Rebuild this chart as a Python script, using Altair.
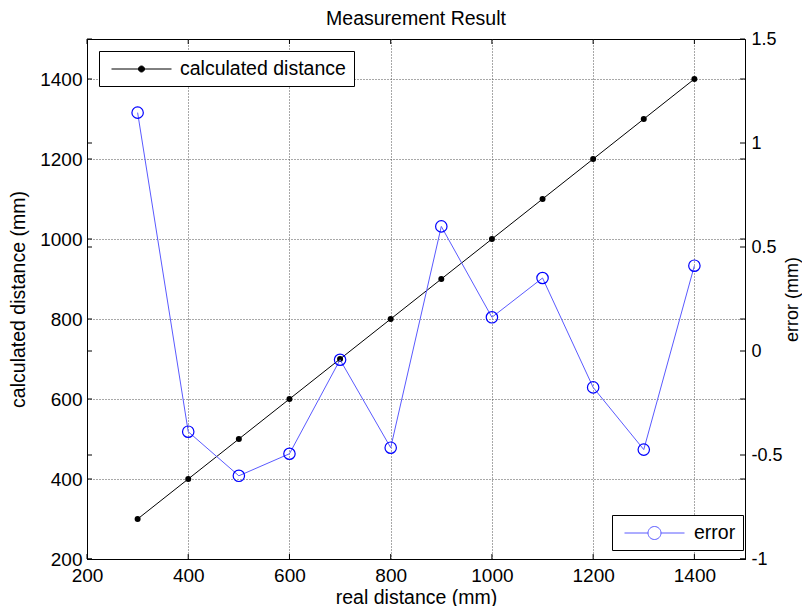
import altair as alt
import pandas as pd

# ---- data ----
real_distance = [300, 400, 500, 600, 700, 800, 900, 1000, 1100, 1200, 1300, 1400]
calculated_distance = [300, 400, 500, 600, 700, 800, 900, 1000, 1100, 1200, 1300, 1400]
error_mm = [1.146, -0.388, -0.600, -0.494, -0.042, -0.465, 0.599, 0.162, 0.351, -0.175, -0.474, 0.410]

x_ticks = [200, 400, 600, 800, 1000, 1200, 1400]
left_ticks = [200, 400, 600, 800, 1000, 1200, 1400]
right_ticks = [-1, -0.5, 0, 0.5, 1, 1.5]

df = pd.DataFrame({
    "real": real_distance,
    "calc": calculated_distance,
    "err": error_mm,
    "s1": ["calculated distance"] * len(real_distance),
    "s2": ["error"] * len(real_distance),
})
df_xt = pd.DataFrame({"real": x_ticks})
df_lt = pd.DataFrame({"t": left_ticks})
df_rt = pd.DataFrame({"t": right_ticks})

W, H = 658, 520
FONT = "Liberation Sans"
FS_TICK = 19
FS_TEXT = 19.5
FS_RIGHT = 18

xscale = alt.Scale(domain=[200, 1500], nice=False, zero=False)
lscale = alt.Scale(domain=[200, 1500], nice=False, zero=False)
rscale = alt.Scale(domain=[-1, 1.5], nice=False, zero=False)

X_AXIS = alt.Axis(values=x_ticks, title="real distance (mm)", grid=True, format="d",
                  ticks=False, labelPadding=7, titlePadding=3, labelFlush=False,
                  labelFontSize=FS_TICK, titleFontSize=FS_TEXT)
X = alt.X("real:Q", scale=xscale, axis=X_AXIS)

# --- left series (left y axis) ---
line_a = alt.Chart(df).mark_line(strokeWidth=1, color="black").encode(
    x=X,
    y=alt.Y("calc:Q", scale=lscale,
            axis=alt.Axis(values=left_ticks, title="calculated distance (mm)", grid=True,
                          format="d", ticks=False, labelPadding=5, titlePadding=11,
                          labelFontSize=FS_TICK, titleFontSize=FS_TEXT)),
    color=alt.Color("s1:N",
                    scale=alt.Scale(domain=["calculated distance"], range=["black"]),
                    legend=alt.Legend(
                        title=None, orient="none", legendX=12, legendY=12,
                        symbolType="M-1,0H5M1.7,0A0.3,0.3 0 1,0 2.3,0A0.3,0.3 0 1,0 1.7,0",
                        symbolSize=400, symbolFillColor="black", symbolStrokeColor="black",
                        symbolStrokeWidth=1, symbolOffset=4.5, labelOffset=48,
                        padding=7.5, strokeColor="black", fillColor="white",
                        labelExpr="datum.label + '\u00a0'", labelLimit=400,
                        labelFont=FONT, labelFontSize=FS_TEXT, labelColor="black")),
)
pts_a = alt.Chart(df).mark_point(filled=True, size=36, opacity=1, color="black").encode(
    x=X,
    y=alt.Y("calc:Q", scale=lscale, axis=None),
)

# --- right series (right y axis) ---
line_b = alt.Chart(df).mark_line(strokeWidth=1).encode(
    x=X,
    y=alt.Y("err:Q", scale=rscale,
            axis=alt.Axis(values=right_ticks, title="error (mm)", orient="right", grid=False,
                          format=".1~f", ticks=False, labelPadding=6, titlePadding=1,
                          titleAngle=270, titleBaseline="top",
                          labelFontSize=FS_RIGHT, titleFontSize=FS_RIGHT,
                          labelExpr="replace(datum.label, '\u2212', '-')")),
    color=alt.Color("s2:N",
                    scale=alt.Scale(domain=["error"], range=["#5a5aff"]),
                    legend=alt.Legend(
                        title=None, orient="none", legendX=525, legendY=476,
                        symbolType="M-1,0H1.35M2.65,0H5M1.35,0A0.65,0.65 0 1,0 2.65,0A0.65,0.65 0 1,0 1.35,0",
                        symbolSize=400, symbolFillColor="transparent", symbolStrokeColor="#2020ff",
                        symbolStrokeWidth=1, symbolOffset=4.5, labelOffset=49, labelLimit=400,
                        padding=7.5, strokeColor="black", fillColor="white",
                        labelFont=FONT, labelFontSize=FS_TEXT, labelColor="black")),
)
pts_b = alt.Chart(df).mark_point(filled=False, size=130, strokeWidth=1.2, opacity=1,
                                 color="#0000ff").encode(
    x=X,
    y=alt.Y("err:Q", scale=rscale, axis=None),
)

# --- inward tick marks (MATLAB style box ticks) ---
def yticks(df_t, sc, x0, x1):
    return alt.Chart(df_t).mark_rule(color="black", strokeWidth=1).encode(
        y=alt.Y("t:Q", scale=sc, axis=None), x=alt.value(x0), x2=alt.value(x1))

def xticks(y0, y1):
    return alt.Chart(df_xt).mark_rule(color="black", strokeWidth=1).encode(
        x=X, y=alt.value(y0), y2=alt.value(y1))

layers = [
    line_a, pts_a, line_b, pts_b,
    yticks(df_lt, lscale, 0, 5), yticks(df_lt, lscale, W - 5, W),
    yticks(df_rt, rscale, 0, 5), yticks(df_rt, rscale, W - 5, W),
    xticks(H - 5, H), xticks(0, 5),
]

chart = alt.layer(*layers).resolve_scale(
    y="independent", color="independent"
).properties(
    width=W, height=H,
    title=alt.TitleParams("Measurement Result", font=FONT, fontSize=FS_TEXT, fontWeight="normal",
                          color="black", anchor="middle", frame="group",
                          baseline="alphabetic", offset=5, dy=19),
    autosize=alt.AutoSizeParams(type="none"),
    padding={"left": 79, "top": 31, "right": 57, "bottom": 47},
    background="white",
).configure_view(
    stroke="black", strokeWidth=1
).configure_axis(
    labelFont=FONT, labelColor="black",
    titleFont=FONT, titleFontWeight="normal", titleColor="black",
    domainColor="black", domainWidth=1,
    gridColor="#505050", gridDash=[1, 2], gridWidth=1, gridOpacity=1,
)

chart.save("out.html", embed_options={"renderer": "svg", "actions": False})
